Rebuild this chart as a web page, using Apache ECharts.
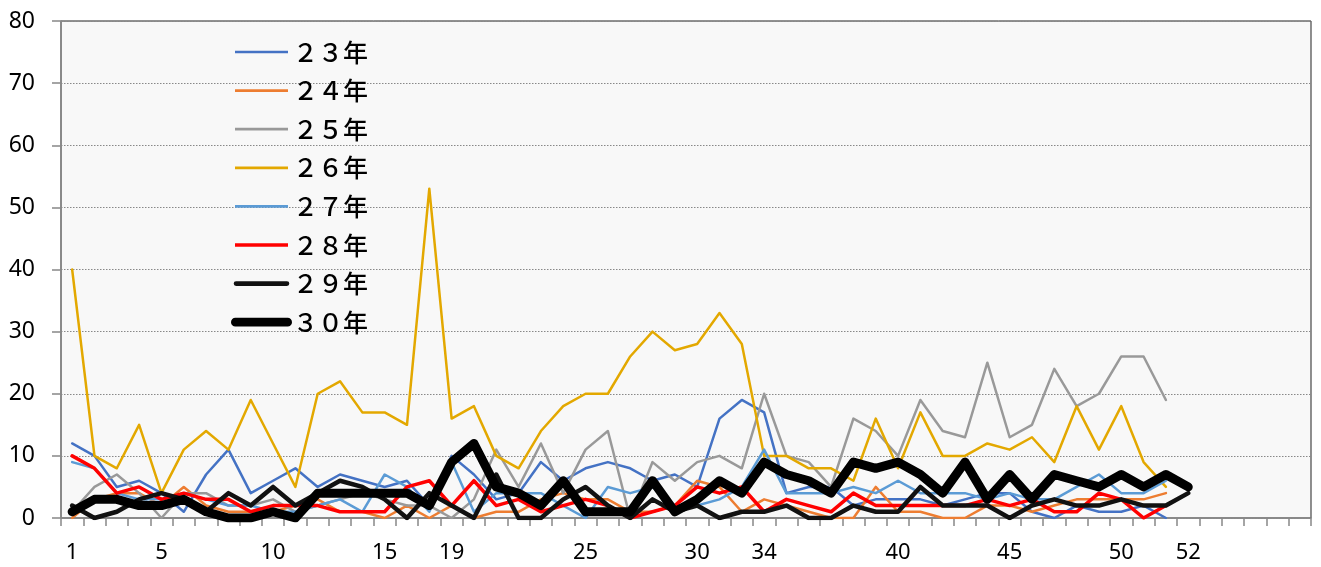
<!DOCTYPE html>
<html>
<head>
<meta charset="utf-8">
<script src="https://cdn.jsdelivr.net/npm/echarts@6/dist/echarts.min.js"></script>
<style>
html,body{margin:0;padding:0;background:#fff;}
#chart{width:1321px;height:567px;}
</style>
</head>
<body>
<div id="chart"></div>
<script>
// x-axis category labels (56 slots, blank where no label is printed)
const xLabels = ['1','','','','5','','','','','10','','','','','15','','','19','','','','','','25','','','','','30','','','34','','','','','','40','','','','','45','','','','','50','','','52','','','','',''];

const seriesNames = ['２３年','２４年','２５年','２６年','２７年','２８年','２９年','３０年'];

const y23 = [12,10,5,6,4,1,7,11,4,6,8,5,7,6,5,6,2,10,7,3,4,9,6,8,9,8,6,7,5,16,19,17,4,5,5,2,3,3,3,2,3,4,4,1,0,2,1,1,2,0];
const y24 = [0,3,4,4,2,5,2,1,1,1,2,3,1,1,0,2,0,2,0,1,1,3,4,3,3,1,1,2,6,5,1,3,2,1,0,0,5,1,1,0,0,2,2,1,2,3,3,3,3,4];
const y25 = [1,5,7,4,0,4,4,2,2,3,1,2,3,4,3,2,2,0,3,11,5,12,4,11,14,0,9,6,9,10,8,20,10,9,5,16,14,10,19,14,13,25,13,15,24,18,20,26,26,19];
const y26 = [40,10,8,15,4,11,14,11,19,12,5,20,22,17,17,15,53,16,18,10,8,14,18,20,20,26,30,27,28,33,28,10,10,8,8,6,16,8,17,10,10,12,11,13,9,18,11,18,9,5];
const y27 = [9,8,4,3,3,4,3,2,2,1,1,2,3,1,7,5,1,9,1,4,4,4,2,0,5,4,5,2,2,3,5,11,4,4,4,5,4,6,4,4,4,3,4,3,3,5,7,4,4,6];
const y28 = [10,8,4,5,3,4,3,3,1,2,2,2,1,1,1,5,6,2,6,2,3,1,2,3,2,0,1,2,5,4,5,1,3,2,1,4,2,2,2,2,2,3,2,3,1,1,4,3,0,2];
const y29 = [2,0,1,3,4,3,1,4,2,5,2,4,6,5,3,0,4,2,0,7,0,0,3,5,2,0,3,1,2,0,1,1,2,0,0,2,1,1,5,2,2,2,0,2,3,2,2,3,2,2,4];
const y30 = [1,3,3,2,2,3,1,0,0,1,0,4,4,4,4,4,2,9,12,5,4,2,6,1,1,1,6,1,3,6,4,9,7,6,4,9,8,9,7,4,9,3,7,3,7,6,5,7,5,7,5];

const yTicks = {min:0, max:80, interval:10};

const colors = ['#4472C4','#ED7D31','#999999','#E3A800','#5B9BD5','#FF0000','#111111','#000000'];
const widths = [2.5,2.5,2.5,2.5,2.5,3.5,4.5,9];
const dataSets = [y23,y24,y25,y26,y27,y28,y29,y30];

// legend swatch shapes (box 61 x 14, anchored by zero-area corner segments)
const box = 'M0,0 L0.01,0 Z M61,14 L60.99,14 Z ';
function barIcon(h){ const a=7-h/2, b=7+h/2; return 'path://'+box+'M4,'+a+' L57,'+a+' L57,'+b+' L4,'+b+' Z'; }
function capIcon(h, x0, x1){ const r=h/2, a=7-r, b=7+r; return 'path://'+box+'M'+(x0+r)+','+a+' L'+(x1-r)+','+a+' A'+r+','+r+' 0 0 1 '+(x1-r)+','+b+' L'+(x0+r)+','+b+' A'+r+','+r+' 0 0 1 '+(x0+r)+','+a+' Z'; }
const icons = [barIcon(2.7),barIcon(2.7),barIcon(2.7),barIcon(2.7),barIcon(2.7),barIcon(3.4),capIcon(4.7,2.7,58.3),capIcon(8.7,0,61)];

const chart = echarts.init(document.getElementById('chart'), null, {renderer:'canvas'});
const font = '"Noto Sans", "Liberation Sans", sans-serif';

chart.setOption({
  animation:false,
  backgroundColor:'#ffffff',
  grid:{left:61, right:10, top:21, bottom:49, show:true, backgroundColor:'#F8F8F8', borderColor:'#222', borderWidth:1},
  legend:{
    orient:'vertical', left:226, top:34, itemWidth:61, itemHeight:14, itemGap:12.6,
    symbolKeepAspect:false,
    itemStyle:{borderWidth:0},
    data: seriesNames.map((n,k)=>({name:n, icon:icons[k]})),
    textStyle:{fontFamily:'"Noto Sans CJK JP", sans-serif', fontSize:25, fontWeight:500, color:'#000', lineHeight:26, padding:[0,0,0,-4]}
  },
  xAxis:{
    type:'category', data:xLabels, boundaryGap:true,
    axisLine:{lineStyle:{color:'#888', width:1.5}},
    axisTick:{show:true, interval:0, length:8, lineStyle:{color:'#888', width:1.5}},
    axisLabel:{interval:0, margin:24, fontSize:22, color:'#000', fontFamily:font},
    splitLine:{show:false}
  },
  yAxis:{
    type:'value', min:yTicks.min, max:yTicks.max, interval:yTicks.interval,
    axisLine:{show:true, lineStyle:{color:'#888', width:1.5}},
    axisTick:{show:true, length:9, lineStyle:{color:'#888', width:1.5}},
    axisLabel:{margin:26, fontSize:23, color:'#000', fontFamily:font},
    splitLine:{show:true, lineStyle:{color:'#888', type:[1.5,1.5], width:1}}
  },
  series: seriesNames.map((n,k)=>({
    name:n, type:'line', data:dataSets[k], showSymbol:false, symbol:'none',
    lineStyle:{color:colors[k], width:widths[k], cap:'round', join:'round'},
    itemStyle:{color:colors[k]},
    emphasis:{disabled:true}
  }))
});
</script>
</body>
</html>
